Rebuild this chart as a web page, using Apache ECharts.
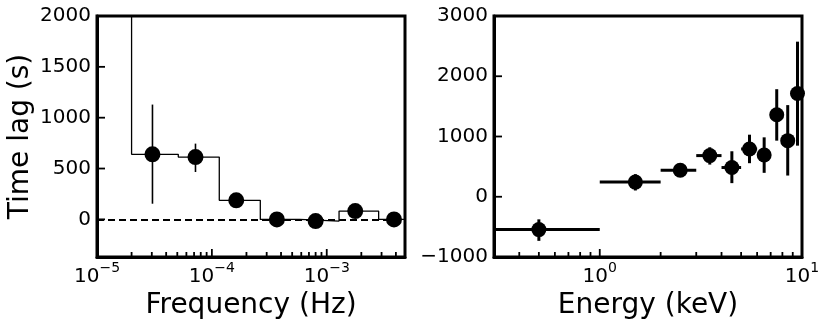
<!DOCTYPE html>
<html>
<head>
<meta charset="utf-8">
<script src="https://cdn.jsdelivr.net/npm/echarts@6/dist/echarts.min.js"></script>
<style>
html, body { margin: 0; padding: 0; background: #fff; }
#chart { width: 830px; height: 325px; }
</style>
</head>
<body>
<div id="chart"></div>
<script>
// left panel: lag vs frequency
var freq = [3.04e-5, 7.2e-5, 1.63e-4, 3.68e-4, 8.0e-4, 1.77e-3, 3.85e-3];
var freqLag = [640, 613, 187, 0, -17, 82, 0];
var freqLagLo = [154, 466, 170, -10, -30, 70, -10];
var freqLagHi = [1129, 745, 205, 10, -5, 95, 10];
// step model (bin edges + values)
var binEdges = [1e-5, 2e-5, 5.1e-5, 1.16e-4, 2.64e-4, 5.8e-4, 1.28e-3, 2.83e-3, 4.8e-3];
var binVals = [4000, 640, 613, 187, 0, -17, 82, 0];

// right panel: lag vs energy
var energy = [0.5, 1.5, 2.5, 3.5, 4.5, 5.5, 6.5, 7.5, 8.5, 9.5];
var energyLo = [0.3, 1, 2, 3, 4, 5, 6, 7, 8, 9];
var energyHi = [1, 2, 3, 4, 5, 6, 7, 8, 9, 10];
var enLag = [-545, 243, 441, 683, 485, 793, 694, 1360, 931, 1714];
var enLagLo = [-732, 104, 400, 534, 226, 557, 397, 931, 352, 848];
var enLagHi = [-375, 375, 480, 821, 755, 1030, 986, 1785, 1521, 2574];

var freqMajor = [1e-5, 1e-4, 1e-3];
var freqMinor = [2e-5, 3e-5, 4e-5, 5e-5, 6e-5, 7e-5, 8e-5, 9e-5,
  2e-4, 3e-4, 4e-4, 5e-4, 6e-4, 7e-4, 8e-4, 9e-4, 2e-3, 3e-3, 4e-3];
var enMajor = [1, 10];
var enMinor = [0.4, 0.5, 0.6, 0.7, 0.8, 0.9, 2, 3, 4, 5, 6, 7, 8, 9];
var lagTicksLeft = [0, 500, 1000, 1500, 2000];
var lagTicksRight = [-1000, 0, 1000, 2000, 3000];

var FONT = 'DejaVu Sans';
var frameLine = { show: true, onZero: false, lineStyle: { color: '#000', width: 3 } };

// axis ranges
var fMin = 1e-5, fMax = 4.8e-3, lagMinL = -370, lagMaxL = 2000;
var eMin = 0.3, eMax = 10, lagMinR = -1000, lagMaxR = 3000;

function powLabel(v) {
  var e = Math.round(Math.log10(v));
  var s = e < 0 ? '\u2212' + (-e) : '' + e;
  return '{b|10}{s|' + s + '}';
}
var powRich = {
  b: { fontSize: 20, fontFamily: FONT, color: '#000', lineHeight: 26, verticalAlign: 'bottom' },
  s: { fontSize: 14, fontFamily: FONT, color: '#000', lineHeight: 26, verticalAlign: 'top' }
};

function logX(gridIndex, min, max, major, name) {
  return {
    type: 'log', logBase: 10, gridIndex: gridIndex, min: min, max: max,
    position: 'bottom',
    name: name, nameLocation: 'middle', nameGap: 28,
    nameTextStyle: { fontSize: 28, fontFamily: FONT, color: '#000' },
    axisLine: frameLine,
    splitLine: { show: false },
    axisTick: { show: false },
    axisLabel: { customValues: major, formatter: powLabel, rich: powRich, margin: 4 }
  };
}
function linY(gridIndex, min, max, ticks, name) {
  return {
    type: 'value', gridIndex: gridIndex, min: min, max: max,
    name: name, nameLocation: 'middle', nameGap: 62,
    nameTextStyle: { fontSize: 28, fontFamily: FONT, color: '#000' },
    axisLine: frameLine,
    splitLine: { show: false },
    axisTick: { show: false },
    axisLabel: { customValues: ticks, fontSize: 20, fontFamily: FONT, color: '#000', margin: 6,
      formatter: function (v) { return String(v).replace('-', '\u2212'); } }
  };
}

var stepData = binEdges.map(function (e, i) {
  return [e, binVals[Math.min(i, binVals.length - 1)]];
});

// inward tick marks as small filled rects, anchored on the axis minimum
function tickSeries(idx, pts, horizontal, len) {
  return {
    type: 'custom', xAxisIndex: idx, yAxisIndex: idx, z: 50, silent: true, clip: false,
    renderItem: function (params, api) {
      var p = api.coord([api.value(0), api.value(1)]);
      var shape = horizontal
        ? { x: p[0], y: p[1] - 0.9, width: len, height: 1.8 }
        : { x: p[0] - 0.9, y: p[1] - len, width: 1.8, height: len };
      return { type: 'rect', shape: shape, style: { fill: '#000' } };
    },
    data: pts
  };
}
function onX(vals, yRef) { return vals.map(function (v) { return [v, yRef]; }); }
function onY(vals, xRef) { return vals.map(function (v) { return [xRef, v]; }); }

function vErr(width) {
  return function (params, api) {
    var x = api.value(0);
    var p1 = api.coord([x, api.value(1)]);
    var p2 = api.coord([x, api.value(2)]);
    return { type: 'line', shape: { x1: p1[0], y1: p1[1], x2: p2[0], y2: p2[1] },
      style: { stroke: '#000', lineWidth: width } };
  };
}
function xyErr(params, api) {
  var y = api.value(1);
  var a = api.coord([api.value(2), y]);
  var b = api.coord([api.value(3), y]);
  var c = api.coord([api.value(0), api.value(4)]);
  var d = api.coord([api.value(0), api.value(5)]);
  return { type: 'group', children: [
    { type: 'line', shape: { x1: a[0], y1: a[1], x2: b[0], y2: b[1] }, style: { stroke: '#000', lineWidth: 3 } },
    { type: 'line', shape: { x1: c[0], y1: c[1], x2: d[0], y2: d[1] }, style: { stroke: '#000', lineWidth: 3 } }
  ] };
}

var chart = echarts.init(document.getElementById('chart'));
chart.setOption({
  animation: false,
  backgroundColor: '#fff',
  grid: [
    { left: 97, right: 425, top: 16, bottom: 68, show: true, borderWidth: 3, borderColor: '#000' },
    { left: 494, right: 28, top: 16, bottom: 68, show: true, borderWidth: 3, borderColor: '#000' }
  ],
  xAxis: [
    logX(0, fMin, fMax, freqMajor, 'Frequency (Hz)'),
    logX(1, eMin, eMax, enMajor, 'Energy (keV)')
  ],
  yAxis: [
    linY(0, lagMinL, lagMaxL, lagTicksLeft, 'Time lag (s)'),
    linY(1, lagMinR, lagMaxR, lagTicksRight, '')
  ],
  series: [
    tickSeries(0, onX(freqMajor, lagMinL), false, 8),
    tickSeries(0, onX(freqMinor, lagMinL), false, 5),
    tickSeries(0, onY(lagTicksLeft, fMin), true, 8),
    tickSeries(1, onX(enMajor, lagMinR), false, 8),
    tickSeries(1, onX(enMinor, lagMinR), false, 5),
    tickSeries(1, onY(lagTicksRight, eMin), true, 8),
    {
      type: 'line', xAxisIndex: 0, yAxisIndex: 0, step: 'end', symbol: 'none',
      data: stepData, clip: true,
      lineStyle: { color: '#000', width: 1.3 },
      markLine: {
        symbol: 'none', silent: true, label: { show: false },
        lineStyle: { color: '#000', width: 2, type: [7, 4] },
        data: [{ yAxis: 0 }]
      }
    },
    {
      type: 'custom', xAxisIndex: 0, yAxisIndex: 0, clip: true,
      renderItem: vErr(1.6),
      data: freq.map(function (f, i) { return [f, freqLagLo[i], freqLagHi[i]]; })
    },
    {
      type: 'scatter', xAxisIndex: 0, yAxisIndex: 0, symbolSize: 16, clip: false,
      itemStyle: { color: '#000', opacity: 1 },
      data: freq.map(function (f, i) { return [f, freqLag[i]]; })
    },
    {
      type: 'custom', xAxisIndex: 1, yAxisIndex: 1, clip: true,
      renderItem: xyErr,
      data: energy.map(function (e, i) {
        return [e, enLag[i], energyLo[i], energyHi[i], enLagLo[i], enLagHi[i]];
      })
    },
    {
      type: 'scatter', xAxisIndex: 1, yAxisIndex: 1, symbolSize: 15, clip: false,
      itemStyle: { color: '#000', opacity: 1 },
      data: energy.map(function (e, i) { return [e, enLag[i]]; })
    }
  ]
});
</script>
</body>
</html>
